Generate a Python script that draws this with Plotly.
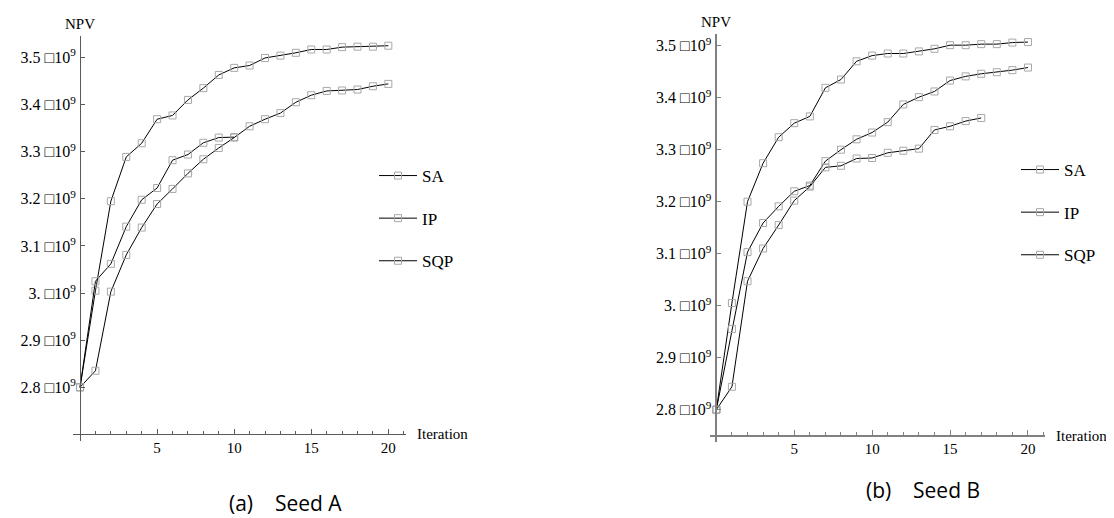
import plotly.graph_objects as go

# ---------------- data (NPV in units of 1e9) ----------------
iter_a_sa = list(range(21))
npv_a_sa = [2.80, 3.005, 3.195, 3.289, 3.318, 3.369, 3.377, 3.410, 3.435, 3.463, 3.478,
            3.483, 3.499, 3.504, 3.510, 3.517, 3.517, 3.522, 3.523, 3.523, 3.525]
iter_a_ip = list(range(21))
npv_a_ip = [2.80, 2.835, 3.003, 3.081, 3.139, 3.189, 3.221, 3.254, 3.284, 3.308, 3.330,
            3.354, 3.369, 3.382, 3.405, 3.420, 3.429, 3.430, 3.432, 3.439, 3.444]
iter_a_sqp = list(range(11))
npv_a_sqp = [2.80, 3.025, 3.062, 3.141, 3.198, 3.223, 3.282, 3.294, 3.319, 3.330, 3.331]

iter_b_sa = list(range(21))
npv_b_sa = [2.80, 3.005, 3.200, 3.274, 3.324, 3.351, 3.364, 3.419, 3.435, 3.470, 3.481,
            3.485, 3.485, 3.489, 3.494, 3.501, 3.501, 3.503, 3.503, 3.506, 3.507]
iter_b_ip = list(range(21))
npv_b_ip = [2.80, 2.955, 3.103, 3.159, 3.191, 3.220, 3.231, 3.278, 3.300, 3.320, 3.333,
            3.353, 3.387, 3.401, 3.412, 3.433, 3.441, 3.446, 3.449, 3.453, 3.458]
iter_b_sqp = list(range(18))
npv_b_sqp = [2.80, 2.844, 3.047, 3.110, 3.155, 3.202, 3.229, 3.266, 3.269, 3.283, 3.284,
             3.294, 3.298, 3.302, 3.338, 3.345, 3.355, 3.361]

series_names = ["SA", "IP", "SQP"]
y_tick_vals = [2.8, 2.9, 3.0, 3.1, 3.2, 3.3, 3.4, 3.5]
y_tick_nums = ["2.8", "2.9", "3.", "3.1", "3.2", "3.3", "3.4", "3.5"]
x_tick_vals = [5, 10, 15, 20]
captions = ["(a)\u00a0\u00a0\u00a0\u00a0Seed A", "(b)\u00a0\u00a0\u00a0\u00a0Seed B"]

# ---------------- layout geometry ----------------
W, H = 1114, 518
SERIF = "Liberation Serif, Times New Roman, serif"


def px(x):
    return x / W


def py(y):
    return 1 - y / H


panels = [
    dict(xdom=(65.1, 397.6), ydom=(28.3, 432.5), xr=(-0.45, 21.12), yr=(2.687, 3.545),
         ycross=2.70, axcol="#5a5a5a", axw=1.2),
    dict(xdom=(701.8, 1037.1), ydom=(26.0, 433.9), xr=(-0.42, 21.1), yr=(2.738, 3.5225),
         ycross=2.75, axcol="#808080", axw=1.6),
]

fig = go.Figure()

data_sets = [
    [(iter_a_sa, npv_a_sa), (iter_a_ip, npv_a_ip), (iter_a_sqp, npv_a_sqp)],
    [(iter_b_sa, npv_b_sa), (iter_b_ip, npv_b_ip), (iter_b_sqp, npv_b_sqp)],
]

for p, sets in enumerate(data_sets):
    xa = "x" if p == 0 else "x2"
    ya = "y" if p == 0 else "y2"
    lg = "legend" if p == 0 else "legend2"
    for name, (xs, ys) in zip(series_names, sets):
        fig.add_trace(go.Scatter(
            x=xs, y=ys, name=name, mode="lines+markers", xaxis=xa, yaxis=ya,
            line=dict(color="black", width=1),
            marker=dict(symbol="square-open", size=7, color="#a8a8a8",
                        line=dict(width=1, color="#a8a8a8")),
            legend=lg, legendgroup=f"{p}{name}", showlegend=True,
        ))

layout = dict(width=W, height=H, margin=dict(l=0, r=0, t=0, b=0),
              paper_bgcolor="white", plot_bgcolor="white", showlegend=True)

annotations = []
for i, pn in enumerate(panels):
    sfx = "" if i == 0 else "2"
    xd = (px(pn["xdom"][0]), px(pn["xdom"][1]))
    yd = (py(pn["ydom"][1]), py(pn["ydom"][0]))
    x0_frac = xd[0] + (0 - pn["xr"][0]) / (pn["xr"][1] - pn["xr"][0]) * (xd[1] - xd[0])
    ycross_frac = yd[0] + (pn["ycross"] - pn["yr"][0]) / (pn["yr"][1] - pn["yr"][0]) * (yd[1] - yd[0])
    layout["xaxis" + sfx] = dict(
        domain=list(xd), range=list(pn["xr"]), anchor="free", position=ycross_frac,
        showgrid=False, zeroline=False, showline=True, linecolor=pn["axcol"], linewidth=pn["axw"],
        tickmode="array", tickvals=x_tick_vals, ticks="inside", ticklen=5,
        tickcolor=pn["axcol"], tickwidth=1,
        minor=dict(tickmode="linear", tick0=0, dtick=1, ticks="inside", ticklen=3,
                   tickcolor=pn["axcol"], showgrid=False),
        tickfont=dict(family=SERIF, size=15, color="black"),
    )
    layout["yaxis" + sfx] = dict(
        domain=list(yd), range=list(pn["yr"]), anchor="free", position=x0_frac,
        showgrid=False, zeroline=False, showline=True, linecolor=pn["axcol"], linewidth=pn["axw"],
        tickmode="array", tickvals=y_tick_vals,
        ticktext=[f"{t}\u00a0\u25a110<sup>9</sup>" for t in y_tick_nums],
        ticks="inside", ticklen=4, tickcolor=pn["axcol"], tickwidth=1,
        tickfont=dict(family=SERIF, size=16, color="black"),
        ticklabelstandoff=1,
    )
    xref = "x" + ("" if i == 0 else "2")
    yref = "y" + ("" if i == 0 else "2")
    annotations.append(dict(text="NPV", x=0, xref=xref, y=1, yref=yref + " domain",
                            yshift=2, xanchor="center", yanchor="bottom", showarrow=False,
                            font=dict(family=SERIF, size=15, color="black")))
    annotations.append(dict(text="Iteration", x=1, xref=xref + " domain", y=pn["ycross"], yref=yref,
                            xshift=9, xanchor="left", yanchor="middle", showarrow=False,
                            font=dict(family=SERIF, size=15, color="black")))

cap_pos = [(277, 495), (915, 482)]
for txt, (cx, cy) in zip(captions, cap_pos):
    annotations.append(dict(text=txt, x=px(cx), y=py(cy), xref="paper", yref="paper",
                            xanchor="center", yanchor="middle", showarrow=False, borderpad=0,
                            font=dict(family="Open Sans", size=21, color="black")))

layout["annotations"] = annotations
legend_common = dict(xanchor="left", yanchor="top", bgcolor="rgba(0,0,0,0)", borderwidth=0,
                     font=dict(family=SERIF, size=17, color="black"), tracegroupgap=17.5,
                     itemwidth=38, traceorder="grouped")
layout["legend"] = dict(x=px(366), y=py(150), **legend_common)
layout["legend2"] = dict(x=px(1008), y=py(144), **legend_common)

fig.update_layout(**layout)
fig.write_html("out.html")
